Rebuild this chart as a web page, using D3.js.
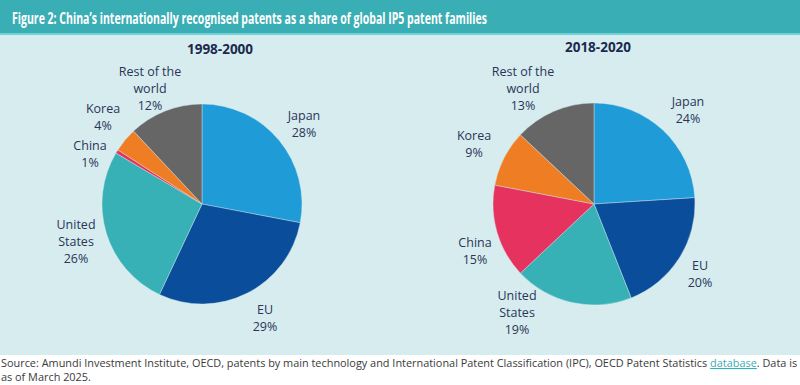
<!DOCTYPE html>
<html><head><meta charset="utf-8">
<script src="https://cdn.jsdelivr.net/npm/d3@7"></script>
<style>
html,body{margin:0;padding:0;background:#fff;}
svg{display:block;font-family:"Open Sans",sans-serif;}
.pre{white-space:pre;}
</style></head>
<body>
<svg id="chart" width="800" height="385"></svg>
<script>
// Data
const categories = ["Japan", "EU", "United States", "China", "Korea", "Rest of the world"];
const labelLines = [["Japan"], ["EU"], ["United", "States"], ["China"], ["Korea"], ["Rest of the", "world"]];
const periods = ["1998-2000", "2018-2020"];
const values1998 = [28, 29, 26.5, 0.6, 3.9, 12];
const values2018 = [24, 20, 19, 15, 9, 13];
const pctLabels1998 = ["28%", "29%", "26%", "1%", "4%", "12%"];
const pctLabels2018 = ["24%", "20%", "19%", "15%", "9%", "13%"];
const colors = ["#1f9bd8", "#0a4e9b", "#38b1b6", "#e6325f", "#ee7d23", "#666666"];

const title = "Figure 2: China\u2019s internationally recognised patents as a share of global IP5 patent families";
const sourceParts = ["Source: Amundi Investment Institute, OECD, patents by main technology and International Patent Classification (IPC), OECD Patent Statistics ", "database", ". Data is"];
const sourceLine2 = "as of March 2025.";

// Layout (label anchor centres per slice, in pixels)
const pies = [
  {cx: 202, cy: 204, r: 100, titleX: 220, titleY: 54, values: values1998, pcts: pctLabels1998,
   labelPos: [[304, 116], [265, 310], [76, 225], [90, 146], [103, 109], [150, 72]]},
  {cx: 594, cy: 204, r: 101, titleX: 598, titleY: 52, values: values2018, pcts: pctLabels2018,
   labelPos: [[688, 102], [700, 266], [517, 296], [475, 243], [474, 136], [523, 72]]}
];

const svg = d3.select("#chart");
// header
svg.append("rect").attr("x",0).attr("y",0).attr("width",800).attr("height",33).attr("fill","#3aaeb5");
svg.append("rect").attr("x",0).attr("y",33).attr("width",800).attr("height",2).attr("fill","#6fd3d8");
svg.append("rect").attr("x",0).attr("y",35).attr("width",800).attr("height",320).attr("fill","#d7ecef");
svg.append("text").attr("x",12).attr("y",23.5).attr("fill","#fff").attr("font-weight","bold")
  .attr("font-size",16.8).attr("textLength",475).attr("lengthAdjust","spacingAndGlyphs").text(title);

const pieGen = d3.pie().sort(null).value(d => d);
const lineH = 16.7;

pies.forEach((p, pi) => {
  const g = svg.append("g").attr("transform", `translate(${p.cx},${p.cy})`);
  const arc = d3.arc().innerRadius(0).outerRadius(p.r);
  g.selectAll("path").data(pieGen(p.values)).join("path")
    .attr("d", arc).attr("fill", (d,i) => colors[i])
    .attr("stroke", "#d7ecef").attr("stroke-width", 0.4);
  svg.append("text").attr("x", p.titleX).attr("y", p.titleY).attr("text-anchor","middle")
    .attr("font-weight","bold").attr("font-size",13.5).attr("fill","#1b2a4e").text(periods[pi]);
  categories.forEach((c, i) => {
    const lines = labelLines[i].concat([p.pcts[i]]);
    const t = svg.append("text").attr("text-anchor","middle").attr("font-size",12.5).attr("fill","#2a3558");
    lines.forEach((ln, k) => {
      t.append("tspan").attr("x", p.labelPos[i][0]).attr("y", p.labelPos[i][1] + k*lineH)
        .attr("dy","0.35em").text(ln);
    });
  });
});

// source: fit first line into the width, placing pieces one after another
let fs = 11.2;
const measure = s => {
  const t = svg.append("text").attr("class","pre").attr("font-size", fs).text(s);
  const w = t.node().getComputedTextLength(); t.remove(); return w;
};
let total = d3.sum(sourceParts, measure);
if (total > 796) { fs = fs * 796 / total; }
let xPos = 1;
sourceParts.forEach((s, i) => {
  const t = svg.append("text").attr("class","pre").attr("x", xPos).attr("y", 367).attr("font-size", fs)
    .attr("fill", i === 1 ? "#3aaeb5" : "#3a3a3a").text(s);
  if (i === 1) t.attr("text-decoration", "underline");
  xPos += t.node().getComputedTextLength();
});
svg.append("text").attr("x",1).attr("y",381).attr("font-size",fs).attr("fill","#3a3a3a").text(sourceLine2);
</script>
</body></html>
